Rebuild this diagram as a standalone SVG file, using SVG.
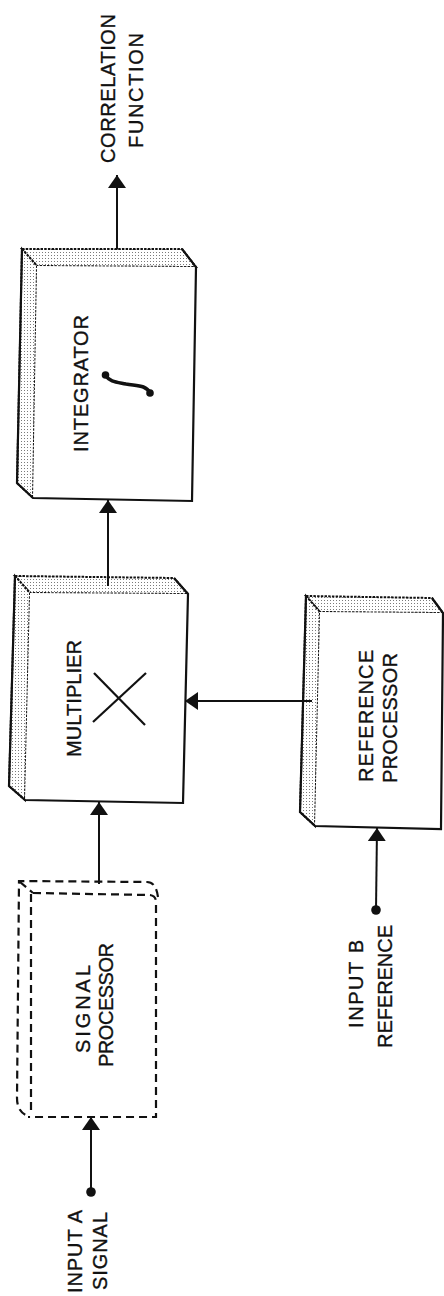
<svg xmlns="http://www.w3.org/2000/svg" width="444" height="1296" viewBox="0 0 444 1296">
<style>
.face{fill:url(#stip);stroke:#111;stroke-width:2;stroke-dasharray:2.5 1.2}
.front{fill:#fff;stroke:none}
.edge{fill:none;stroke:#111;stroke-width:2.2;stroke-linejoin:miter}
.dash{fill:none;stroke:#111;stroke-width:2.2;stroke-dasharray:8 5}
.t{font-family:"Liberation Sans",Arial,sans-serif;font-size:20px;fill:#111;stroke:#111;stroke-width:0.35;text-anchor:middle}
.conn{fill:none;stroke:#111;stroke-width:2}
.sym{fill:none;stroke:#111;stroke-width:2.2}
</style>
<defs>
<pattern id="stip" width="3" height="3" patternUnits="userSpaceOnUse"><rect width="3" height="3" fill="#fff"/><rect width="1" height="1" fill="#7a7a7a"/></pattern>
<marker id="ah" viewBox="0 0 13 18" refX="13" refY="9" markerWidth="13" markerHeight="18" orient="auto" markerUnits="userSpaceOnUse"><path d="M0,0 L13,9 L0,18 Z" fill="#111"/></marker>
</defs>
<rect width="444" height="1296" fill="#fff"/>

<g id="integrator">
<polygon class="face" points="22,249 182,249 196,267 37,266"/>
<polygon class="face" points="22,249 37,266 33,498 17,483"/>
<polygon class="front" points="37,266 196,267 192,501 33,498"/>
<polyline class="edge" points="182,249 196,267 192,501 33,498 17,483 22,249"/>
<text class="t" transform="translate(88,383.5) rotate(-90)" textLength="137" lengthAdjust="spacing">INTEGRATOR</text>
<path d="M105,375 C110,382 116,382 126,384 C138,386 146,385 150,393" fill="none" stroke="#111" stroke-width="3.6" stroke-linecap="round"/>
<circle cx="105.5" cy="375" r="3.8" fill="#111"/>
<circle cx="150" cy="393" r="3.8" fill="#111"/>
</g>

<g id="multiplier">
<polygon class="face" points="15,576 174,578 188,594 30,593"/>
<polygon class="face" points="15,576 30,593 25,800 9,786"/>
<polygon class="front" points="30,593 188,594 183,803 25,800"/>
<polyline class="edge" points="174,578 188,594 183,803 25,800 9,786 15,576"/>
<text class="t" transform="translate(81,698.5) rotate(-90)" textLength="117" lengthAdjust="spacing">MULTIPLIER</text>
<line class="sym" x1="94" y1="673" x2="145" y2="725"/>
<line class="sym" x1="93" y1="722" x2="146" y2="673"/>
</g>

<g id="reference-processor">
<polygon class="face" points="306,596 432,598 443,613 320,612"/>
<polygon class="face" points="306,596 320,612 315,826 300,812"/>
<polygon class="front" points="320,612 443,613 441,829 315,826"/>
<polyline class="edge" points="432,598 443,613 441,829 315,826 300,812 306,596"/>
<text class="t" transform="translate(373,716) rotate(-90)" textLength="132" lengthAdjust="spacing">REFERENCE</text>
<text class="t" transform="translate(397,718) rotate(-90)" textLength="130" lengthAdjust="spacing">PROCESSOR</text>
</g>

<g id="signal-processor">
<path class="dash" d="M158,897 Q156,882 147,882 L19,881 L17,1098 Q17,1112 28,1116"/>
<path class="dash" d="M20,882 L33,893"/>
<path class="dash" d="M33,893 L150,895 Q156,896 156,902 L156,1117 L28,1117 M31,1110 L31,893"/>
<text class="t" transform="translate(90,1009) rotate(-90)" textLength="88" lengthAdjust="spacing">SIGNAL</text>
<text class="t" transform="translate(113,1005) rotate(-90)" textLength="124" lengthAdjust="spacing">PROCESSOR</text>
</g>

<g id="input-a">
<circle cx="91" cy="1192" r="4.8" fill="#111"/>
<text class="t" transform="translate(82,1251.5) rotate(-90)" textLength="83" lengthAdjust="spacing">INPUT A</text>
<text class="t" transform="translate(107,1251) rotate(-90)" textLength="78" lengthAdjust="spacing">SIGNAL</text>
</g>

<g id="input-b">
<circle cx="376" cy="910" r="4.8" fill="#111"/>
<text class="t" transform="translate(363,984) rotate(-90)" textLength="88" lengthAdjust="spacing">INPUT B</text>
<text class="t" transform="translate(392,986.5) rotate(-90)" textLength="123" lengthAdjust="spacing">REFERENCE</text>
</g>

<g id="output">
<text class="t" transform="translate(115,88.5) rotate(-90)" textLength="149" lengthAdjust="spacing">CORRELATION</text>
<text class="t" transform="translate(143,90.5) rotate(-90)" textLength="115" lengthAdjust="spacing">FUNCTION</text>
</g>

<g id="connectors">
<line class="conn" x1="91" y1="1192" x2="91" y2="1117" marker-end="url(#ah)" stroke-width="2.4"/>
<line class="conn" x1="99" y1="884" x2="99" y2="802" marker-end="url(#ah)"/>
<line class="conn" x1="108" y1="586" x2="108" y2="500" marker-end="url(#ah)"/>
<line class="conn" x1="117" y1="249" x2="117" y2="175" marker-end="url(#ah)"/>
<line class="conn" x1="312" y1="701" x2="185" y2="701" marker-end="url(#ah)"/>
<line class="conn" x1="376" y1="910" x2="377" y2="828" marker-end="url(#ah)" stroke-width="2.4"/>
</g>
</svg>
